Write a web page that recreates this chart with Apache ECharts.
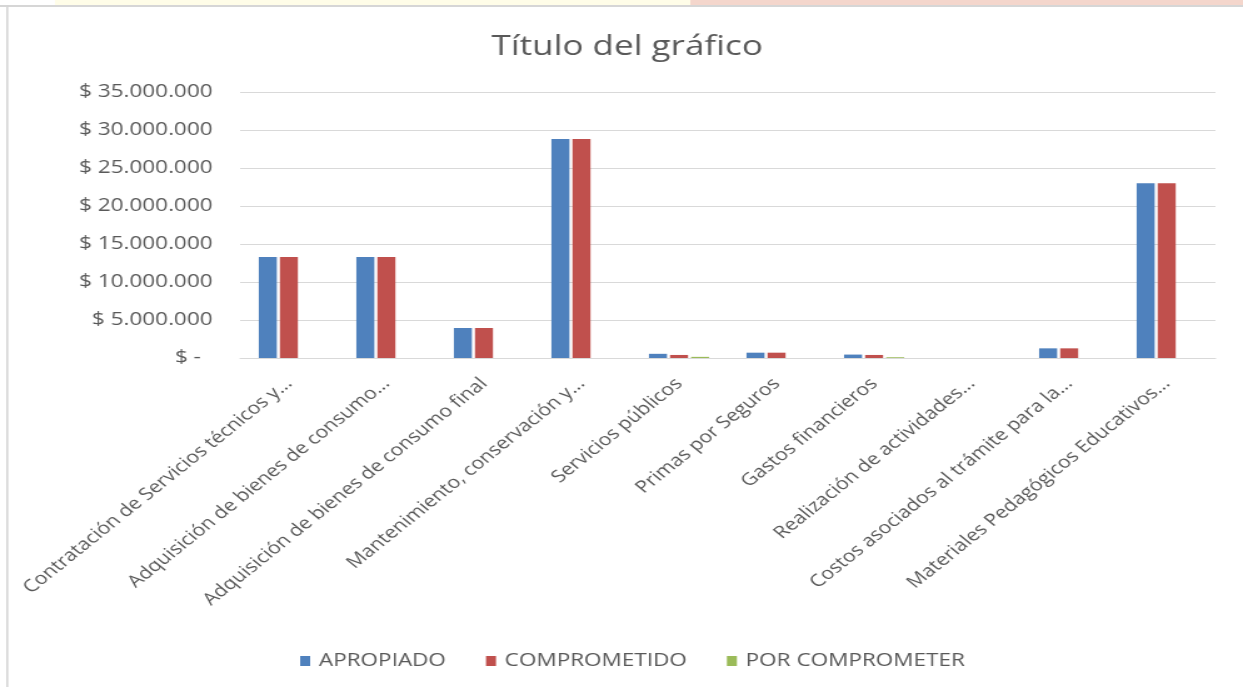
<!DOCTYPE html>
<html>
<head>
<meta charset="utf-8">
<script src="https://cdn.jsdelivr.net/npm/echarts@6/dist/echarts.min.js"></script>
<style>
html,body{margin:0;padding:0;background:#fff;overflow:hidden;}
#chart{width:994px;height:687px;transform:scaleX(1.2505);transform-origin:0 0;}
</style>
</head>
<body>
<div id="chart"></div>
<script>
const categories = [
  "Contratación de Servicios técnicos y...",
  "Adquisición de bienes de consumo...",
  "Adquisición de bienes de consumo final",
  "Mantenimiento, conservación y...",
  "Servicios públicos",
  "Primas por Seguros",
  "Gastos financieros",
  "Realización de actividades...",
  "Costos asociados al trámite para la...",
  "Materiales Pedagógicos Educativos..."
];
const apropiado      = [13300000, 13300000, 3950000, 28800000, 550000, 700000, 450000, 0, 1270000, 23000000];
const comprometido   = [13300000, 13300000, 3950000, 28800000, 400000, 700000, 400000, 0, 1270000, 23000000];
const porComprometer = [0, 0, 0, 0, 150000, 0, 100000, 0, 0, 0];
const seriesNames = ["APROPIADO", "COMPROMETIDO", "POR COMPROMETER"];
const titleText = "Título del gráfico";

const FONT = "'Open Sans', 'Noto Sans', sans-serif";
const TXT = "#595959";

function fmt(v) {
  if (v === 0) return "$ -\u00a0\u00a0";
  return "$ " + String(v).replace(/\B(?=(\d{3})+(?!\d))/g, ".");
}

const chart = echarts.init(document.getElementById('chart'), null, {renderer: 'canvas'});
chart.setOption({
  backgroundColor: '#ffffff',
  animation: false,
  color: ['#4F81BD', '#C0504D', '#9BBB59'],
  graphic: [
    {type: 'rect', shape: {x: 44, y: 0, width: 508, height: 5}, style: {fill: '#FFFDE8'}, silent: true},
    {type: 'rect', shape: {x: 552, y: 0, width: 442, height: 5}, style: {fill: '#F4D6CC'}, silent: true},
    {type: 'rect', shape: {x: 0, y: 5, width: 994, height: 2}, style: {fill: '#D6D6D6'}, silent: true},
    {type: 'rect', shape: {x: 5, y: 5, width: 1.6, height: 682}, style: {fill: '#D6D6D6'}, silent: true}
  ],
  title: {
    text: titleText,
    left: 388,
    top: 28,
    textStyle: {fontFamily: FONT, fontSize: 28, fontWeight: 'normal', color: TXT}
  },
  legend: {
    data: seriesNames,
    bottom: 12,
    left: 235,
    icon: 'rect',
    itemWidth: 8,
    itemHeight: 10,
    itemGap: 32,
    textStyle: {fontFamily: FONT, fontSize: 18, color: TXT, padding: [0, 0, 0, 2]}
  },
  grid: {left: 192, right: 22, top: 92, bottom: 329, containLabel: false},
  xAxis: {
    type: 'category',
    data: categories,
    axisLine: {lineStyle: {color: '#D9D9D9', width: 1}},
    axisTick: {show: false},
    axisLabel: {
      interval: 0,
      rotate: 45,
      margin: 23,
      fontFamily: FONT,
      fontSize: 17,
      color: TXT
    }
  },
  yAxis: {
    type: 'value',
    min: 0,
    max: 35000000,
    interval: 5000000,
    axisLine: {show: false},
    axisTick: {show: false},
    splitLine: {lineStyle: {color: '#D9D9D9', width: 1}},
    axisLabel: {
      margin: 22,
      fontFamily: FONT,
      fontSize: 18,
      color: TXT,
      formatter: fmt
    }
  },
  series: [
    {name: seriesNames[0], type: 'bar', data: apropiado, barWidth: 14.4, barGap: '17%'},
    {name: seriesNames[1], type: 'bar', data: comprometido, barWidth: 14.4, barGap: '17%'},
    {name: seriesNames[2], type: 'bar', data: porComprometer, barWidth: 14.4, barGap: '17%'}
  ]
});
</script>
</body>
</html>
